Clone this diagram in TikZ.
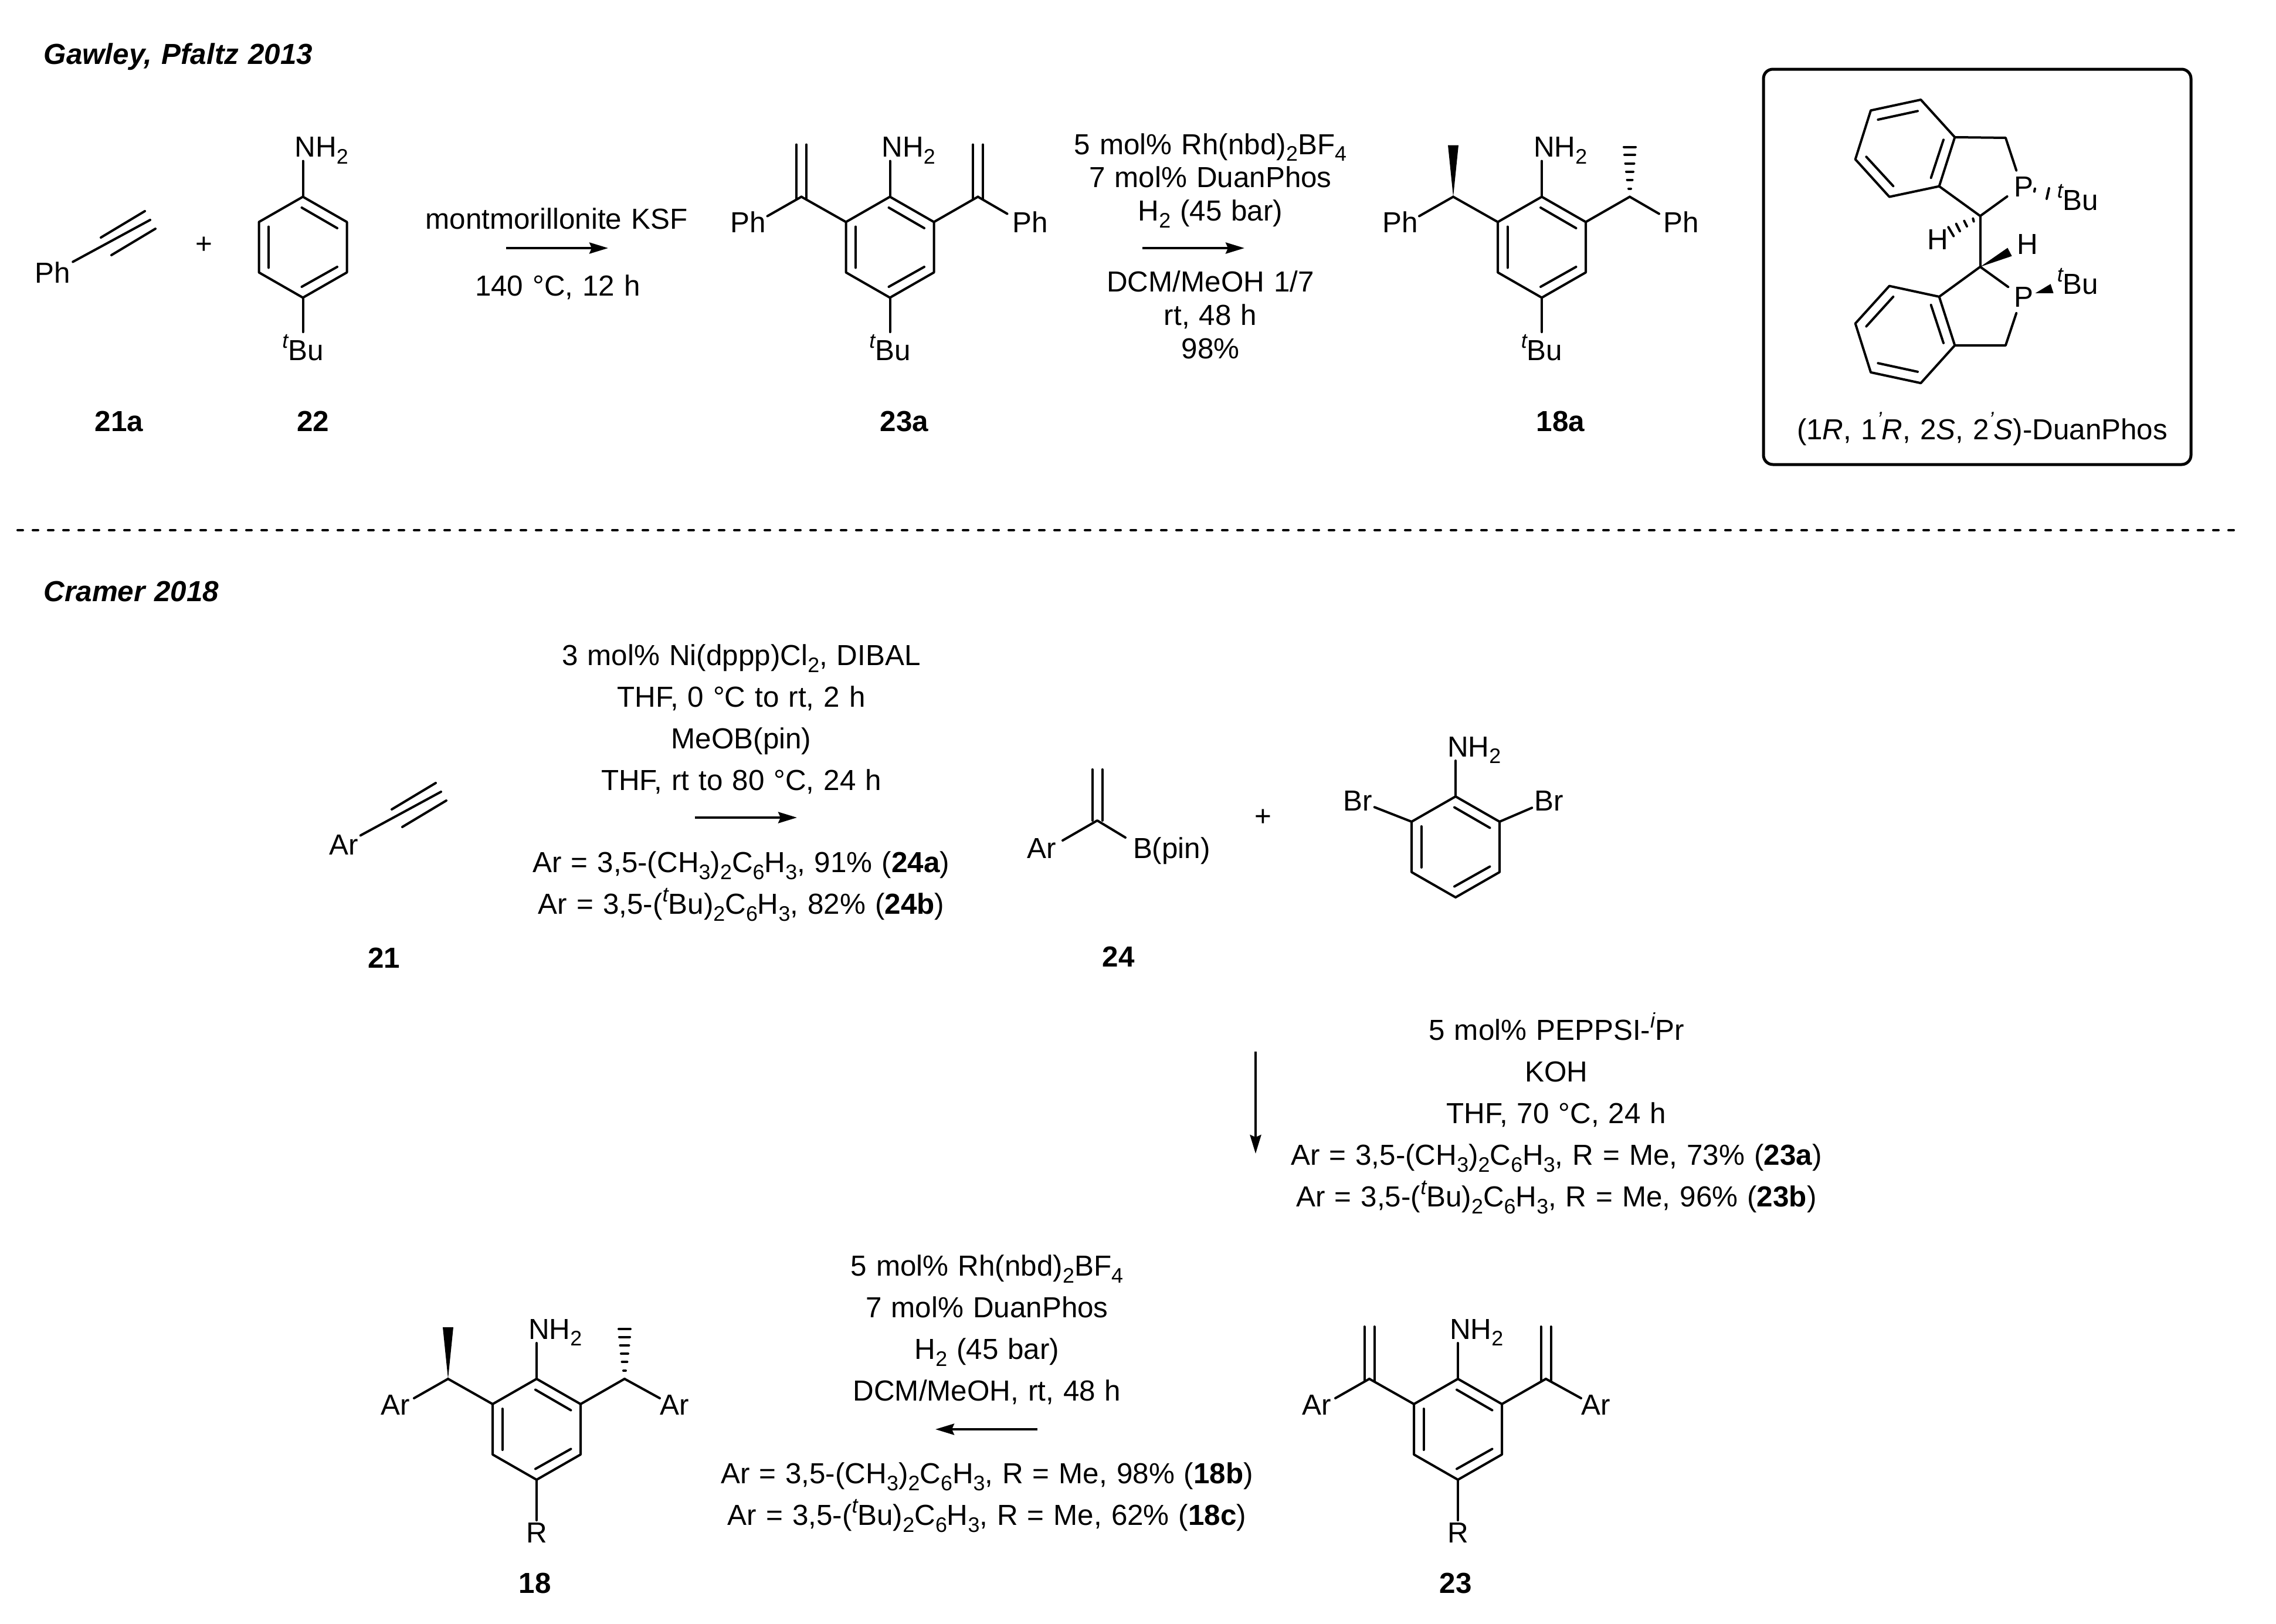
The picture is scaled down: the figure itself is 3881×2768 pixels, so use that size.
\documentclass[tikz,border=0pt]{standalone}
\usepackage{fontspec}
\setmainfont{Liberation Sans}
\usetikzlibrary{arrows.meta, positioning}
\newcommand{\chemfont}{\fontsize{14.05}{20.2}\selectfont\spaceskip = 4.55pt}
\newcommand{\tightfont}{\fontsize{14.05}{16.2}\selectfont\spaceskip = 4.55pt}
\newcommand{\chemsub}[1]{\raisebox{-0.24em}{\fontsize{10.2}{12}\selectfont #1}}
\newcommand{\chemsup}[1]{\raisebox{0.43em}{\fontsize{10.2}{12}\selectfont\itshape #1}}
\tikzset{> = { Stealth[length = 3.2mm, width = 1.9mm, inset = 0.4mm] }}
\tikzset{
	bond/.style = {line width = 0.4mm, line cap = round, line join = round},
	rxn/.style = {->, line width = 0.4mm},
	atom/.style = {inner sep = 0pt, outer sep = 0.4mm, font = \chemfont},
	reagent/.style = {inner sep = 0pt, align = center, font = \chemfont},
	cmpd/.style = {inner sep = 0pt, anchor = base, font = \chemfont\bfseries},
	heading/.style = {inner sep = 0pt, anchor = base west, font = \chemfont\bfseries\itshape},
	aniline/.pic = {
		\coordinate (-c) at (0, 0);
		\coordinate (-top) at (0, -86);
		\coordinate (-bot) at (0, 86);
		\draw [bond] (-top) -- (75, -43) -- (75, 43) -- (-bot) -- (-75, 43) -- (-75, -43) -- cycle;
		\draw [bond] (-2, -67.5) -- (58.5, -32.5);
		\draw [bond] (-58.5, -35) -- (-58.5, 35);
		\draw [bond] (-2, 67.5) -- (58.5, 33.5);
	},
	vinylarms/.pic = {
		\coordinate (-cl) at (-151, -86);
		\coordinate (-cr) at (150, -86);
		\draw [bond] (-75, -43) -- (-cl);
		\draw [bond] (75, -43) -- (-cr);
		\foreach \dx in {-8.5, 8.5} {
			\draw [bond] (-151 + \dx, -82) -- (-151 + \dx, -175);
			\draw [bond] (150 + \dx, -82) -- (150 + \dx, -175);
		}
	},
	ethylarms/.pic = {
		\coordinate (-cl) at (-151, -86);
		\coordinate (-cr) at (150, -86);
		\draw [bond] (-75, -43) -- (-cl);
		\draw [bond] (75, -43) -- (-cr);
		\fill (-cl) -- (-160, -174) -- (-142, -174) -- cycle;
		\foreach \y/\w in {-171/10, -157.5/9, -143/7.5, -129/6, -115/4.5, -100/2} {
			\draw [bond] (150 - \w, \y) -- (150 + \w, \y);
		}
	},
	alkyne/.pic = {
		\coordinate (-end) at (166, -90);
		\draw [bond] (82, -60) -- (157, -105);
		\draw [bond] (100, -30) -- (175, -75);
	},
}
% atoms round one aniline: name, side group, para group, x of left group, x of right group, end of right bond
\newcommand{\anilineatoms}[6]{
	\node [atom, anchor = base] (#1L) at ([shift = {(#4, -25)}] #1-c) {#2};
	\node [atom, anchor = base] (#1R) at ([shift = {(#5, -25)}] #1-c) {#2};
	\node [atom, anchor = base west] (#1N) at ([shift = {(-18, -154)}] #1-c) {NH\chemsub{2}};
	\node [atom, anchor = base] (#1P) at ([shift = {(0, 193)}] #1-c) {#3};
	\draw [bond] (#1-cl) -- ([shift = {(-209, -53)}] #1-c);
	\draw [bond] (#1-cr) -- ([shift = {(#6)}] #1-c);
	\draw [bond] (#1-top) -- ([yshift = -0.7mm] #1-top |- #1N.base);
	\draw [bond] (#1-bot) -- (#1P);
}
\begin{document}
\begin{tikzpicture}[x = 0.1mm, y = -0.1mm]
	\useasboundingbox (0, 0) rectangle (3881, 2768);

	\node [heading] (gawley) at (74, 109) {Gawley, Pfaltz 2013};
	\node [heading] (cramer) at (74, 1025) {Cramer 2018};
	\coordinate (sepL) at (30, 904);
	\coordinate (sepR) at (3813, 904);
	\draw [line width = 0.4mm, line cap = round, dash pattern = on 0.9mm off 1.7mm] (sepL) -- (sepR);

	% first reaction
	\node [atom] (ph21a) at (90, 465) {Ph};
	\pic (alk21a) at (ph21a) {alkyne};
	\draw [bond] (ph21a) -- (alk21a-end);
	\node [atom] (plus1) at (348, 418) {+};
	\pic (an22) at (516.5, 421.5) {aniline};
	\node [atom, anchor = base west] (an22N) at ([shift = {(-18, -154)}] an22-c) {NH\chemsub{2}};
	\node [atom, anchor = base] (an22P) at ([shift = {(0, 193)}] an22-c) {\chemsup{t}Bu};
	\draw [bond] (an22-top) -- ([yshift = -0.7mm] an22-top |- an22N.base);
	\draw [bond] (an22-bot) -- (an22P);
	\node [cmpd] (lab21a) at (203, 735) {21a};
	\node [cmpd] (lab22) at (534, 735) {22};

	\coordinate (a1s) at (863, 423);
	\coordinate (a1e) at (1037, 423);
	\draw [rxn] (a1s) -- (a1e);
	\node [reagent, anchor = base] (c1top) at (949, 390) {montmorillonite KSF};
	\node [reagent, anchor = base] (c1low) at (951, 504) {140 °C, 12 h};

	\pic (p23a) at (1517.5, 421.5) {aniline};
	\pic (p23a) at (1517.5, 421.5) {vinylarms};
	\anilineatoms{p23a}{Ph}{\chemsup{t}Bu}{-242}{239}{200, -57}
	\node [cmpd] (lab23a) at (1542, 735) {23a};

	\coordinate (a2s) at (1948, 423);
	\coordinate (a2e) at (2122, 423);
	\draw [rxn] (a2s) -- (a2e);
	\node [reagent, font = \tightfont] (c2top) at (2064, 308) {5 mol\% Rh(nbd)\chemsub{2}BF\chemsub{4}\\7 mol\% DuanPhos\\H\chemsub{2} (45 bar)};
	\node [reagent, font = \tightfont] (c2low) at (2064, 537) {DCM/MeOH 1/7\\rt, 48 h\\98\%};

	\pic (p18a) at (2629, 421.5) {aniline};
	\pic (p18a) at (2629, 421.5) {ethylarms};
	\anilineatoms{p18a}{Ph}{\chemsup{t}Bu}{-241}{238}{200, -57}
	\node [cmpd] (lab18a) at (2661, 735) {18a};

	% ligand box
	\node [draw, line width = 0.5mm, inner sep = 0pt, rounded corners = 1.6mm, minimum width = 72.9mm, minimum height = 67.4mm] (duanbox) at (3371.5, 455) {};
	\begin{scope}[shift = {(3170, 150)}, x = 0.03333mm, y = -0.03333mm]
		\draw [bond] (316, 60) -- (60, 115) -- (-19, 365) -- (155, 557) -- (410, 503) -- (490, 252) -- cycle;
		\draw [bond] (97, 162) -- (300, 118);
		\draw [bond] (37, 352) -- (175, 502);
		\draw [bond] (368, 460) -- (432, 265);
		\draw [bond] (410, 1068) -- (155, 1013) -- (-19, 1205) -- (60, 1455) -- (316, 1510) -- (490, 1317) -- cycle;
		\draw [bond] (37, 1220) -- (175, 1068);
		\draw [bond] (368, 1110) -- (432, 1305);
		\draw [bond] (97, 1408) -- (300, 1452);
		\coordinate (c1) at (620, 655);
		\coordinate (c2) at (620, 915);
		\node [atom, anchor = base west] (p1) at (781, 558) {P};
		\node [atom, anchor = base west] (p2) at (783, 1122) {P};
		\node [atom, anchor = base west] (tbu1) at (1002, 625) {\chemsup{t}Bu};
		\node [atom, anchor = base west] (tbu2) at (1002, 1055) {\chemsup{t}Bu};
		\node [atom, anchor = base west] (h1) at (336, 828) {H};
		\node [atom, anchor = base west] (h2) at (796, 852) {H};
		\draw [bond] (410, 503) -- (c1) -- (758, 555);
		\draw [bond] (490, 252) -- (750, 255) -- (805, 422);
		\draw [bond] (c1) -- (c2);
		\draw [bond] (410, 1068) -- (c2) -- (763, 1018);
		\draw [bond] (490, 1317) -- (750, 1317) -- (805, 1152);
		\fill (c2) -- (760, 818) -- (782, 860) -- cycle;
		\fill (902, 1050) -- (980, 1003) -- (995, 1050) -- cycle;
		\foreach \xa/\ya/\xb/\yb in {583/668/587/683, 538/680/552/708, 497/695/516/733, 457/712/484/758, 900/515/897/530, 972/513/960/567} {
			\draw [bond] (\xa, \ya) -- (\xb, \yb);
		}
	\end{scope}
	\node [reagent, anchor = base] (duanlabel) at (3380, 749) {(1\textit{R}, 1\chemsup{'}\textit{R}, 2\textit{S}, 2\chemsup{'}\textit{S})-DuanPhos};

	% second reaction
	\node [atom] (ar21) at (586, 1440) {Ar};
	\pic (alk21) at (ar21) {alkyne};
	\draw [bond] (ar21) -- (alk21-end);
	\node [cmpd] (lab21) at (655, 1650) {21};

	\coordinate (a3s) at (1185, 1394);
	\coordinate (a3e) at (1359, 1394);
	\draw [rxn] (a3s) -- (a3e);
	\node [reagent] (c3top) at (1264, 1226) {3 mol\% Ni(dppp)Cl\chemsub{2}, DIBAL\\THF, 0 °C to rt, 2 h\\MeOB(pin)\\THF, rt to 80 °C, 24 h};
	\node [reagent] (c3low) at (1264, 1511) {Ar = 3,5-(CH\chemsub{3})\chemsub{2}C\chemsub{6}H\chemsub{3}, 91\% (\textbf{24a})\\Ar = 3,5-(\chemsup{t}Bu)\chemsub{2}C\chemsub{6}H\chemsub{3}, 82\% (\textbf{24b})};

	\coordinate (c24) at (1871, 1399);
	\node [atom, anchor = base] (ar24) at (1776, 1463) {Ar};
	\node [atom, anchor = base west] (bpin) at (1928, 1463) {B(pin)};
	\draw [bond] (1812, 1433) -- (c24) -- (1919, 1428);
	\draw [bond] (1862.5, 1399) -- (1862.5, 1312);
	\draw [bond] (1879.5, 1399) -- (1879.5, 1312);
	\node [cmpd] (lab24) at (1907, 1648) {24};
	\node [atom] (plus2) at (2154, 1394) {+};

	\pic (dibromo) at (2482, 1444) {aniline};
	\node [atom, anchor = base west] (dibromoN) at ([shift = {(-18, -154)}] dibromo-c) {NH\chemsub{2}};
	\node [atom] (brL) at (2315, 1365) {Br};
	\node [atom] (brR) at (2641, 1365) {Br};
	\draw [bond] (dibromo-top) -- ([yshift = -0.7mm] dibromo-top |- dibromoN.base);
	\draw [bond] (2407, 1401) -- (brL);
	\draw [bond] (2557, 1401) -- (brR);

	\coordinate (a4s) at (2141, 1793);
	\coordinate (a4e) at (2141, 1967);
	\draw [rxn] (a4s) -- (a4e);
	\node [reagent] (c4) at (2654, 1898) {5 mol\% PEPPSI-\chemsup{i}Pr\\KOH\\THF, 70 °C, 24 h\\Ar = 3,5-(CH\chemsub{3})\chemsub{2}C\chemsub{6}H\chemsub{3}, R = Me, 73\% (\textbf{23a})\\Ar = 3,5-(\chemsup{t}Bu)\chemsub{2}C\chemsub{6}H\chemsub{3}, R = Me, 96\% (\textbf{23b})};

	\pic (p23) at (2486, 2437) {aniline};
	\pic (p23) at (2486, 2437) {vinylarms};
	\anilineatoms{p23}{Ar}{R}{-241}{235}{210, -53}
	\node [cmpd] (lab23) at (2482, 2716) {23};

	\coordinate (a5s) at (1769, 2437);
	\coordinate (a5e) at (1595, 2437);
	\draw [rxn] (a5s) -- (a5e);
	\node [reagent] (c5top) at (1683, 2267) {5 mol\% Rh(nbd)\chemsub{2}BF\chemsub{4}\\7 mol\% DuanPhos\\H\chemsub{2} (45 bar)\\DCM/MeOH, rt, 48 h};
	\node [reagent] (c5low) at (1683, 2553) {Ar = 3,5-(CH\chemsub{3})\chemsub{2}C\chemsub{6}H\chemsub{3}, R = Me, 98\% (\textbf{18b})\\Ar = 3,5-(\chemsup{t}Bu)\chemsub{2}C\chemsub{6}H\chemsub{3}, R = Me, 62\% (\textbf{18c})};

	\pic (p18) at (915, 2437) {aniline};
	\pic (p18) at (915, 2437) {ethylarms};
	\anilineatoms{p18}{Ar}{R}{-241}{235}{210, -53}
	\node [cmpd] (lab18) at (912, 2716) {18};
\end{tikzpicture}
\end{document}
